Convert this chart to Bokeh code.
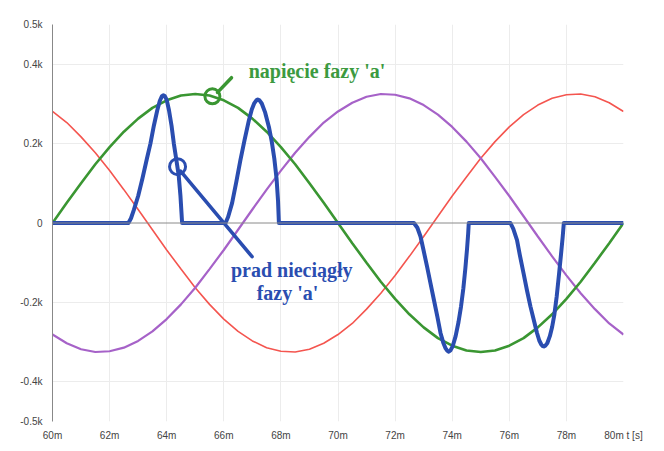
from bokeh.plotting import figure
from bokeh.models import FixedTicker, Span, Label, Range1d
from bokeh.embed import file_html
from bokeh.resources import INLINE

# time axis (ms)
t = [60.0, 60.5, 61.0, 61.5, 62.0, 62.5, 63.0, 63.5, 64.0, 64.5,
     65.0, 65.5, 66.0, 66.5, 67.0, 67.5, 68.0, 68.5, 69.0, 69.5,
     70.0, 70.5, 71.0, 71.5, 72.0, 72.5, 73.0, 73.5, 74.0, 74.5,
     75.0, 75.5, 76.0, 76.5, 77.0, 77.5, 78.0, 78.5, 79.0, 79.5, 80.0]

# phase voltages (V)
u_a = [0, 51, 100, 148, 191, 230, 263, 290, 309, 321, 325, 321, 309, 290, 263, 230, 191, 148, 100, 51,
       0, -51, -100, -148, -191, -230, -263, -290, -309, -321, -325, -321, -309, -290, -263, -230, -191, -148, -100, -51, 0]
u_b = [281, 253, 217, 177, 132, 84, 34, -17, -68, -116, -163, -205, -242, -273, -297, -314, -323, -325, -318, -303,
       -281, -253, -217, -177, -132, -84, -34, 17, 68, 116, 163, 205, 242, 273, 297, 314, 323, 325, 318, 303, 281]
u_c = [-281, -303, -318, -325, -323, -314, -297, -273, -242, -205, -163, -116, -68, -17, 34, 84, 132, 177, 217, 253,
       281, 303, 318, 325, 323, 314, 297, 273, 242, 205, 163, 116, 68, 17, -34, -84, -132, -177, -217, -253, -281]

# discontinuous current of phase a
i_t = [60, 62.66, 62.75, 62.85, 63.0, 63.15, 63.3, 63.43, 63.55, 63.67, 63.76, 63.83, 63.88, 63.93, 64.0,
       64.08, 64.17, 64.25, 64.34, 64.42, 64.48, 64.54,
       66.06, 66.15, 66.29, 66.44, 66.58, 66.73, 66.88, 66.98, 67.07, 67.14, 67.19, 67.25, 67.33, 67.45,
       67.58, 67.68, 67.77, 67.85, 67.9, 67.93,
       72.66, 72.78, 72.89, 73.0, 73.12, 73.24, 73.36, 73.48, 73.59, 73.69, 73.77, 73.83, 73.88, 73.94,
       74.02, 74.12, 74.22, 74.31, 74.39, 74.46, 74.52, 74.56, 74.58,
       76.04, 76.14, 76.27, 76.38, 76.5, 76.62, 76.74, 76.86, 76.97, 77.05, 77.12, 77.17, 77.21, 77.26,
       77.33, 77.42, 77.5, 77.58, 77.66, 77.74, 77.81, 77.87, 77.91, 80]
i_a = [0, 0, 12, 33, 68, 112, 160, 200, 245, 284, 308, 319, 322, 320, 310,
       284, 245, 200, 158, 120, 70, 0,
       0, 15, 50, 104, 158, 210, 259, 286, 302, 309, 311, 309, 301, 278,
       242, 205, 162, 110, 55, 0,
       0, -12, -34, -70, -110, -152, -194, -236, -277, -302, -316, -322, -324, -321,
       -310, -285, -250, -210, -165, -115, -65, -26, 0,
       0, -15, -43, -85, -127, -170, -210, -245, -277, -296, -306, -310, -311, -309,
       -303, -285, -262, -230, -185, -130, -80, -35, 0, 0]

x_ticks = [60, 62, 64, 66, 68, 70, 72, 74, 76, 78, 80]
x_tick_labels = ["60m", "62m", "64m", "66m", "68m", "70m", "72m", "74m", "76m", "78m", "80m t [s]"]
y_ticks = [-500, -400, -200, 0, 200, 400, 500]
y_tick_labels = ["-0.5k", "-0.4k", "-0.2k", "0", "0.2k", "0.4k", "0.5k"]

# annotation anchors (data units)
green_mark = (65.6, 319)
green_ptr_x = [65.78, 66.27]
green_ptr_y = [329, 366]
green_text_pos = (66.87, 384)
blue_mark = (64.38, 142)
blue_ptr_x = [64.48, 66.99]
blue_ptr_y = [131, -85]
blue_text1_pos = (68.38, -118)
blue_text2_pos = (68.23, -176)

GREEN = "#3a9632"
GREEN_TXT = "#3c9a40"
BLUE = "#2a4db0"
RED = "#f4554f"
PURPLE = "#a662c8"

p = figure(width=648, height=443, x_range=Range1d(60, 80), y_range=Range1d(-500, 500),
           output_backend="svg", toolbar_location=None,
           min_border_left=52, min_border_right=25, min_border_top=24, min_border_bottom=21)
p.outline_line_color = None
p.background_fill_color = "white"
p.border_fill_color = "white"

p.xaxis.ticker = FixedTicker(ticks=x_ticks)
p.xaxis.major_label_overrides = {k: v for k, v in zip(x_ticks, x_tick_labels)}
p.yaxis.ticker = FixedTicker(ticks=y_ticks)
p.yaxis.major_label_overrides = {k: v for k, v in zip(y_ticks, y_tick_labels)}
for ax in (p.xaxis, p.yaxis):
    ax.major_tick_line_color = None
    ax.minor_tick_line_color = None
    ax.major_label_text_font = "Liberation Sans"
    ax.major_label_text_font_size = "10px"
    ax.major_label_text_color = "#444444"
p.xaxis.axis_line_color = None
p.xaxis.major_label_standoff = 2
p.yaxis.axis_line_color = "#888888"
p.yaxis.axis_line_width = 1
p.yaxis.major_label_standoff = 4

p.xgrid.ticker = FixedTicker(ticks=[62, 64, 66, 68, 70, 72, 74, 76, 78])
p.ygrid.ticker = FixedTicker(ticks=[-400, -200, 200, 400])
p.xgrid.grid_line_color = "#ececec"
p.ygrid.grid_line_color = "#ececec"

p.add_layout(Span(location=0, dimension="width", line_color="#8a8a8a", line_width=1))

p.line(t, u_b, line_color=RED, line_width=1.6)
p.line(t, u_c, line_color=PURPLE, line_width=2.2)
p.line(t, u_a, line_color=GREEN, line_width=2.6)
p.line(i_t, i_a, line_color=BLUE, line_width=4, line_join="round")

# annotations
p.scatter([green_mark[0]], [green_mark[1]], marker="circle", size=15, fill_color=None,
          line_color=GREEN, line_width=3)
p.line(green_ptr_x, green_ptr_y, line_color=GREEN, line_width=3.5, line_cap="round")
p.add_layout(Label(x=green_text_pos[0], y=green_text_pos[1], text="napięcie fazy 'a'",
                   text_font="Liberation Serif", text_font_style="bold", text_font_size="20px",
                   text_color=GREEN_TXT, text_align="left", text_baseline="middle"))

p.scatter([blue_mark[0]], [blue_mark[1]], marker="circle", size=16, fill_color=None,
          line_color=BLUE, line_width=3)
p.line(blue_ptr_x, blue_ptr_y, line_color=BLUE, line_width=3.5, line_cap="round")
p.add_layout(Label(x=blue_text1_pos[0], y=blue_text1_pos[1], text="prad nieciągły",
                   text_font="Liberation Serif", text_font_style="bold", text_font_size="20px",
                   text_color=BLUE, text_align="center", text_baseline="middle"))
p.add_layout(Label(x=blue_text2_pos[0], y=blue_text2_pos[1], text="fazy 'a'",
                   text_font="Liberation Serif", text_font_style="bold", text_font_size="20px",
                   text_color=BLUE, text_align="center", text_baseline="middle"))

open("out.html", "w").write(file_html(p, INLINE))
